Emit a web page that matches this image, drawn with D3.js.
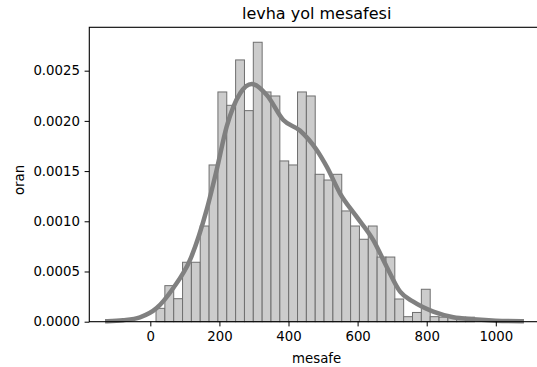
<!DOCTYPE html>
<html>
<head>
<meta charset="utf-8">
<script src="https://cdn.jsdelivr.net/npm/d3@7"></script>
<style>
  body { margin: 0; background: #fff; }
  text { font-family: "DejaVu Sans", sans-serif; fill: #000; }
</style>
</head>
<body>
<script>
// histogram: first bin edge, bin width and density of each bin
const binStart = 16.5;
const binWidth = 25.6;
const density = [
  0.000133, 0.000359, 0.000229, 0.000592, 0.000592, 0.000953,
  0.001561, 0.002288, 0.002155, 0.002607, 0.002102, 0.002783,
  0.002288, 0.002248, 0.001601, 0.001561, 0.002288, 0.002248,
  0.001468, 0.001411, 0.001468, 0.001103, 0.000953, 0.000821,
  0.000953, 0.000644, 0.000644, 0.000226, 0.000050, 0.000092,
  0.000323, 0.000050, 0.000045, 0.000045, 0.000045, 0.000045
];

// kde curve
const kdeX = [-124.5, -79, -30, 18.5, 66.6, 115, 163, 192, 221, 260, 293.5, 337,
  385, 433, 481.6, 510.6, 549, 597, 645, 684, 723, 761, 819, 877, 935, 1000, 1075];
const kdeY = [0.000005, 0.000015, 0.000044, 0.000136, 0.000336, 0.000615, 0.001113,
  0.001511, 0.001942, 0.002275, 0.002368, 0.002258, 0.002009, 0.001904, 0.00171,
  0.001544, 0.001279, 0.001046, 0.000814, 0.000548, 0.000299, 0.000199, 0.0001,
  0.000044, 0.000024, 0.00001, 0.000005];

const xTicks = [0, 200, 400, 600, 800, 1000];
const yTicks = [0, 0.0005, 0.001, 0.0015, 0.002, 0.0025];

main();

function main() {
  setupCanvas();
  setupScales();
  drawBars();
  drawKde();
  drawAxes();
  addLabels();
}

function setupCanvas() {
  W = 537; H = 367;
  plot = { left: 89.3, right: 544, top: 27.3, bottom: 321.7 };
  svg = d3.select("body").append("svg")
    .attr("width", W)
    .attr("height", H);
}

function setupScales() {
  x = d3.scaleLinear().domain([-176.6, 1139.5]).range([plot.left, plot.right]);
  y = d3.scaleLinear().domain([0, 0.002932]).range([plot.bottom, plot.top]);
}

function drawBars() {
  svg.append("g")
    .selectAll("rect")
    .data(density)
    .enter()
    .append("rect")
    .attr("x", (d, i) => x(binStart + i * binWidth))
    .attr("width", (d, i) => x(binStart + (i + 1) * binWidth) - x(binStart + i * binWidth))
    .attr("y", d => y(d))
    .attr("height", d => y(0) - y(d))
    .attr("fill", "#cccccc")
    .attr("stroke", "#6f6f6f")
    .attr("stroke-width", 1);
}

function drawKde() {
  const pts = kdeX.map((v, i) => [v, kdeY[i]]);
  const line = d3.line()
    .x(d => x(d[0]))
    .y(d => y(d[1]))
    .curve(d3.curveMonotoneX);
  svg.append("path")
    .datum(pts)
    .attr("d", line)
    .attr("fill", "none")
    .attr("stroke", "#808080")
    .attr("stroke-width", 4.5)
    .attr("stroke-linecap", "square");
}

function drawAxes() {
  const gx = svg.append("g")
    .attr("transform", `translate(0, ${plot.bottom})`)
    .call(d3.axisBottom(x).tickValues(xTicks).tickFormat(d3.format("d"))
      .tickSize(4.7).tickPadding(4.7).tickSizeOuter(0));
  const gy = svg.append("g")
    .attr("transform", `translate(${plot.left}, 0)`)
    .call(d3.axisLeft(y).tickValues(yTicks).tickFormat(d3.format(".4f"))
      .tickSize(4.7).tickPadding(4.7).tickSizeOuter(0));
  [gx, gy].forEach(g => {
    g.select(".domain").remove();
    g.selectAll("text").style("font-size", "13.3px").attr("fill", "#000");
    g.selectAll("line").attr("stroke", "#000").attr("stroke-width", 1);
  });

  // frame (all four spines)
  svg.append("rect")
    .attr("x", plot.left)
    .attr("y", plot.top)
    .attr("width", plot.right - plot.left)
    .attr("height", plot.bottom - plot.top)
    .attr("fill", "none")
    .attr("stroke", "#000")
    .attr("stroke-width", 1.1);
}

function addLabels() {
  svg.append("text")
    .attr("x", (plot.left + plot.right) / 2)
    .attr("y", 19.3)
    .attr("text-anchor", "middle")
    .style("font-size", "16px")
    .text("levha yol mesafesi");

  svg.append("text")
    .attr("x", (plot.left + plot.right) / 2)
    .attr("y", 363)
    .attr("text-anchor", "middle")
    .style("font-size", "13.3px")
    .text("mesafe");

  svg.append("text")
    .attr("transform", "translate(24, 180) rotate(-90)")
    .attr("text-anchor", "middle")
    .style("font-size", "13.3px")
    .text("oran");
}
</script>
</body>
</html>
